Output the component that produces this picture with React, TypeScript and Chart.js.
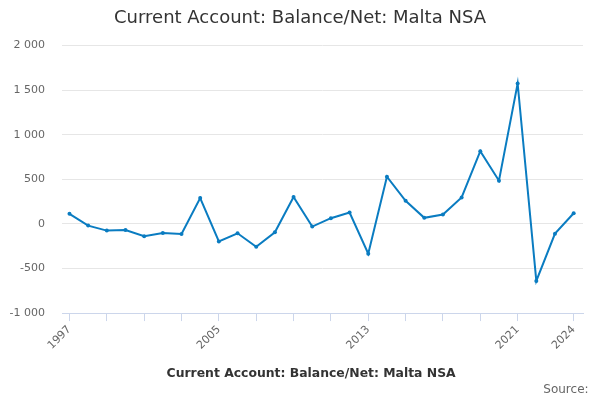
import { useEffect, useRef } from "react"
import { Chart, registerables } from "chart.js"

Chart.register(...registerables)

const years = [
  1997, 1998, 1999, 2000, 2001, 2002, 2003, 2004, 2005, 2006, 2007, 2008, 2009, 2010,
  2011, 2012, 2013, 2014, 2015, 2016, 2017, 2018, 2019, 2020, 2021, 2022, 2023, 2024,
]
const balance = [
  113, -19, -75, -68, -139, -102, -113, 290, -196, -105, -256, -94, 301, -30,
  64, 128, -335, 530, 259, 68, 105, 297, 816, 485, 1575, -639, -109, 120,
]
const tickYears = [1997, 1999, 2001, 2003, 2005, 2007, 2009, 2011, 2013, 2015, 2017, 2019, 2021, 2024]
const labelYears = [1997, 2005, 2013, 2021, 2024]

const seriesName = "Current Account: Balance/Net: Malta NSA"
const lineColor = "#0a7cc1"

// "2 000" style thousands separator
function fmt(v: number) {
  const s = String(Math.abs(v)).replace(/\B(?=(\d{3})+(?!\d))/g, " ")
  return v < 0 ? "-" + s : s
}

export default function App() {
  const canvasRef = useRef<HTMLCanvasElement>(null)
  const chartRef = useRef<Chart | null>(null)

  useEffect(() => {
    document.body.style.margin = "0"
    if (!canvasRef.current) return
    if (chartRef.current) chartRef.current.destroy()

    chartRef.current = new Chart(canvasRef.current, {
      type: "line",
      data: {
        datasets: [
          {
            label: seriesName,
            data: years.map((y, i) => ({ x: y, y: balance[i] })),
            borderColor: lineColor,
            backgroundColor: lineColor,
            borderWidth: 2,
            pointRadius: 2,
            pointBorderWidth: 0,
            tension: 0,
          },
        ],
      },
      options: {
        animation: false,
        responsive: true,
        maintainAspectRatio: false,
        layout: { padding: 0 },
        scales: {
          x: {
            type: "linear",
            min: 1996.6,
            max: 2024.5,
            afterBuildTicks: (scale) => {
              scale.ticks = tickYears.map((v) => ({ value: v }))
            },
            afterFit: (scale) => {
              scale.height += 11
            },
            ticks: {
              autoSkip: false,
              minRotation: 45,
              maxRotation: 45,
              color: "#666",
              font: { family: "DejaVu Sans", size: 11 },
              padding: 2,
              callback: (v) => (labelYears.includes(Number(v)) ? String(v) : ""),
            },
            grid: {
              drawOnChartArea: false,
              drawTicks: true,
              tickLength: 8,
              color: "#ccd6eb",
            },
            border: { color: "#ccd6eb", width: 1 },
          },
          y: {
            min: -1000,
            max: 2000,
            afterFit: (scale) => {
              scale.width = 62
            },
            ticks: {
              stepSize: 500,
              color: "#666",
              font: { family: "DejaVu Sans", size: 11 },
              padding: 17,
              callback: (v) => fmt(Number(v)),
            },
            grid: { color: "#e6e6e6", drawTicks: false },
            border: { display: false },
          },
          // empty spacer on the right so the plot ends where the reference does
          spacer: {
            type: "linear",
            position: "right",
            display: true,
            afterFit: (scale) => {
              scale.width = 17
            },
            ticks: { display: false },
            grid: { display: false },
            border: { display: false },
          },
        },
        plugins: {
          title: {
            display: true,
            text: seriesName,
            color: "#333",
            font: { family: "DejaVu Sans", size: 18, weight: "normal" },
            padding: { top: 8, bottom: 16 },
          },
          subtitle: {
            display: true,
            position: "bottom",
            align: "end",
            text: "Source:   ",
            color: "#666",
            font: { family: "DejaVu Sans", size: 12, weight: "normal" },
            padding: { top: -7, bottom: 3 },
          },
          legend: {
            position: "bottom",
            labels: {
              usePointStyle: true,
              pointStyle: "line",
              pointStyleWidth: 16,
              color: "#333",
              font: { family: "DejaVu Sans", size: 12.4, weight: "bold" },
              padding: 2,
            },
          },
          tooltip: { enabled: false },
        },
      },
    })

    return () => {
      if (chartRef.current) {
        chartRef.current.destroy()
        chartRef.current = null
      }
    }
  }, [])

  return (
    <div style={{ width: 600, height: 400, position: "relative" }}>
      <canvas ref={canvasRef} />
    </div>
  )
}
